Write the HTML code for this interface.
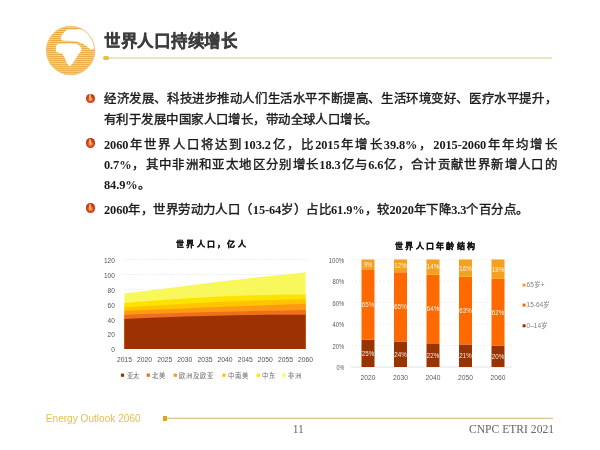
<!DOCTYPE html>
<html lang="zh-CN">
<head>
<meta charset="utf-8">
<style>
*{margin:0;padding:0;box-sizing:border-box}
html,body{width:600px;height:450px;overflow:hidden;background:#fff}
body{position:relative;font-family:"Liberation Serif",serif;color:#222}
.abs{position:absolute}
#title{left:104px;top:28px;-webkit-text-stroke:0.3px #3c3c3c;font-family:"Liberation Sans",sans-serif;font-weight:bold;font-size:16.5px;color:#3c3c3c;white-space:nowrap;letter-spacing:-0.26px}
.ln{position:absolute;left:104px;width:453px;font-size:12.4px;letter-spacing:0.44px;font-weight:normal;-webkit-text-stroke:0.4px #1a1a1a;white-space:nowrap;text-align:justify;text-align-last:justify;line-height:16px;color:#1a1a1a}
.n{font-size:12.4px;letter-spacing:-0.1px;font-weight:bold;-webkit-text-stroke:0}
.bul{position:absolute;width:9.2px;height:9.4px;border-radius:50%;background:radial-gradient(circle at 50% 58%,#ffe080 0,#f9a040 14%,#dc4c22 36%,#c43418 60%,#a42a10 100%)}
.bul::after{content:"";position:absolute;left:3.8px;top:0.6px;width:1.6px;height:4.2px;border-radius:0.8px;background:linear-gradient(#f0a060,#ffd070)}
.ct{position:absolute;font-weight:bold;white-space:nowrap;color:#111}
.ax{position:absolute;font-family:"Liberation Sans",sans-serif;font-size:8px;color:#595959;white-space:nowrap}
.lg{position:absolute;font-size:7px;color:#555;white-space:nowrap}
</style>
</head>
<body>
<div id="wrap" style="position:absolute;left:0;top:0;width:600px;height:450px;will-change:transform">
<!-- globe -->
<svg class="abs" style="left:44px;top:24px" width="56" height="56" viewBox="0 0 450 450">
<defs>
<pattern id="st" width="450" height="16" patternUnits="userSpaceOnUse">
<rect width="450" height="16" fill="#fae6bd"/>
<rect width="450" height="10" fill="#eaa83a"/>
</pattern>
<clipPath id="gc"><circle cx="214" cy="213" r="197"/></clipPath>
</defs>
<circle cx="214" cy="213" r="197" fill="url(#st)"/>
<g clip-path="url(#gc)" fill="#fff">
<path d="M136 128 L138 100 L150 80 L170 60 L185 44 L240 46 L285 42 L330 40 L400 70 L430 140 L430 205 L402 198 L375 204 L352 186 L332 170 L312 158 L292 150 L270 142 L240 136 L200 134 L160 134 Z"/>
<path d="M110 160 L99 176 L95 200 L97 226 L120 232 L145 238 L163 263 L181 309 L204 342 L222 325 L236 309 L259 272 L275 246 L292 228 L303 205 L294 182 L278 166 L252 158 L200 156 Z"/>
</g>
<circle cx="214" cy="213" r="193" fill="none" stroke="#eec27a" stroke-width="8"/>
</svg>

<div id="title" class="abs">世界人口持续增长</div>
<div class="abs" style="left:107px;top:57px;width:445px;height:1.5px;background:#ebe6c0"></div>
<div class="abs" style="left:102.8px;top:55.5px;width:6px;height:4.4px;border-radius:2.2px;background:#e6c22c"></div>

<!-- bullets -->
<div class="bul" style="left:85.6px;top:93.7px"></div>
<div class="bul" style="left:85.6px;top:138.2px"></div>
<div class="bul" style="left:85.6px;top:203.3px"></div>

<div class="ln" style="top:91px">经济发展、科技进步推动人们生活水平不断提高、生活环境变好、医疗水平提升，</div>
<div class="ln" style="top:112px;text-align-last:left">有利于发展中国家人口增长，带动全球人口增长。</div>
<div class="ln" style="top:136.5px"><span class="n">2060</span>年世界人口将达到<span class="n">103.2</span>亿，比<span class="n">2015</span>年增长<span class="n">39.8%</span>，<span class="n">2015-2060</span>年年均增长</div>
<div class="ln" style="top:156.5px"><span class="n">0.7%</span>，其中非洲和亚太地区分别增长<span class="n">18.3</span>亿与<span class="n">6.6</span>亿，合计贡献世界新增人口的</div>
<div class="ln" style="top:177px;text-align-last:left"><span class="n">84.9%</span>。</div>
<div class="ln" style="top:202px;text-align-last:left"><span class="n">2060</span>年，世界劳动力人口（<span class="n">15-64</span>岁）占比<span class="n">61.9%</span>，较<span class="n">2020</span>年下降<span class="n">3.3</span>个百分点。</div>

<!-- left chart -->
<div class="ct" style="left:176px;top:237.8px;font-size:8px;letter-spacing:2.3px;-webkit-text-stroke:0.2px #111">世界人口，亿人</div>
<svg id="c1" class="abs" style="left:0;top:0" width="600" height="450">
<line x1="123.4" y1="334.1" x2="306.6" y2="334.1" stroke="#e2e2e2" stroke-width="0.8" stroke-dasharray="1 1.2"/>
<line x1="123.4" y1="319.2" x2="306.6" y2="319.2" stroke="#e2e2e2" stroke-width="0.8" stroke-dasharray="1 1.2"/>
<line x1="123.4" y1="304.3" x2="306.6" y2="304.3" stroke="#e2e2e2" stroke-width="0.8" stroke-dasharray="1 1.2"/>
<line x1="123.4" y1="289.4" x2="306.6" y2="289.4" stroke="#e2e2e2" stroke-width="0.8" stroke-dasharray="1 1.2"/>
<line x1="123.4" y1="274.5" x2="306.6" y2="274.5" stroke="#e2e2e2" stroke-width="0.8" stroke-dasharray="1 1.2"/>
<line x1="123.4" y1="259.6" x2="306.6" y2="259.6" stroke="#e2e2e2" stroke-width="0.8" stroke-dasharray="1 1.2"/>
<path d="M124.4 293.6 L144.5 291.0 L164.7 288.4 L184.8 285.9 L204.9 283.4 L225.1 281.1 L245.2 278.8 L265.3 276.5 L285.5 274.4 L305.6 272.3 L305.6 349.0 L285.5 349.0 L265.3 349.0 L245.2 349.0 L225.1 349.0 L204.9 349.0 L184.8 349.0 L164.7 349.0 L144.5 349.0 L124.4 349.0 Z" fill="#f8f85c"/>
<path d="M124.4 303.0 L144.5 301.3 L164.7 299.7 L184.8 298.4 L204.9 297.2 L225.1 296.2 L245.2 295.5 L265.3 294.9 L285.5 294.6 L305.6 294.4 L305.6 349.0 L285.5 349.0 L265.3 349.0 L245.2 349.0 L225.1 349.0 L204.9 349.0 L184.8 349.0 L164.7 349.0 L144.5 349.0 L124.4 349.0 Z" fill="#ffe300"/>
<path d="M124.4 307.5 L144.5 306.1 L164.7 304.9 L184.8 303.7 L204.9 302.7 L225.1 301.8 L245.2 300.9 L265.3 300.2 L285.5 299.6 L305.6 299.1 L305.6 349.0 L285.5 349.0 L265.3 349.0 L245.2 349.0 L225.1 349.0 L204.9 349.0 L184.8 349.0 L164.7 349.0 L144.5 349.0 L124.4 349.0 Z" fill="#ffc400"/>
<path d="M124.4 311.0 L144.5 310.1 L164.7 309.3 L184.8 308.4 L204.9 307.6 L225.1 306.8 L245.2 306.0 L265.3 305.3 L285.5 304.5 L305.6 303.8 L305.6 349.0 L285.5 349.0 L265.3 349.0 L245.2 349.0 L225.1 349.0 L204.9 349.0 L184.8 349.0 L164.7 349.0 L144.5 349.0 L124.4 349.0 Z" fill="#fd9a14"/>
<path d="M124.4 314.7 L144.5 314.0 L164.7 313.4 L184.8 312.8 L204.9 312.2 L225.1 311.7 L245.2 311.3 L265.3 310.8 L285.5 310.5 L305.6 310.1 L305.6 349.0 L285.5 349.0 L265.3 349.0 L245.2 349.0 L225.1 349.0 L204.9 349.0 L184.8 349.0 L164.7 349.0 L144.5 349.0 L124.4 349.0 Z" fill="#ef6f1c"/>
<path d="M124.4 319.0 L144.5 318.0 L164.7 317.2 L184.8 316.5 L204.9 315.9 L225.1 315.4 L245.2 315.1 L265.3 314.8 L285.5 314.7 L305.6 314.7 L305.6 349.0 L285.5 349.0 L265.3 349.0 L245.2 349.0 L225.1 349.0 L204.9 349.0 L184.8 349.0 L164.7 349.0 L144.5 349.0 L124.4 349.0 Z" fill="#9c3203"/>
<g font-family="Liberation Sans, sans-serif" font-size="8" fill="#525252">
<text x="114.8" y="352.3" text-anchor="end" textLength="3.6" lengthAdjust="spacingAndGlyphs">0</text>
<text x="114.8" y="337.4" text-anchor="end" textLength="7.2" lengthAdjust="spacingAndGlyphs">20</text>
<text x="114.8" y="322.5" text-anchor="end" textLength="7.2" lengthAdjust="spacingAndGlyphs">40</text>
<text x="114.8" y="307.6" text-anchor="end" textLength="7.2" lengthAdjust="spacingAndGlyphs">60</text>
<text x="114.8" y="292.7" text-anchor="end" textLength="7.2" lengthAdjust="spacingAndGlyphs">80</text>
<text x="114.8" y="277.8" text-anchor="end" textLength="10.8" lengthAdjust="spacingAndGlyphs">100</text>
<text x="114.8" y="262.9" text-anchor="end" textLength="10.8" lengthAdjust="spacingAndGlyphs">120</text>
<text x="124.4" y="361.8" text-anchor="middle" textLength="15" lengthAdjust="spacingAndGlyphs">2015</text>
<text x="144.5" y="361.8" text-anchor="middle" textLength="15" lengthAdjust="spacingAndGlyphs">2020</text>
<text x="164.7" y="361.8" text-anchor="middle" textLength="15" lengthAdjust="spacingAndGlyphs">2025</text>
<text x="184.8" y="361.8" text-anchor="middle" textLength="15" lengthAdjust="spacingAndGlyphs">2030</text>
<text x="204.9" y="361.8" text-anchor="middle" textLength="15" lengthAdjust="spacingAndGlyphs">2035</text>
<text x="225.1" y="361.8" text-anchor="middle" textLength="15" lengthAdjust="spacingAndGlyphs">2040</text>
<text x="245.2" y="361.8" text-anchor="middle" textLength="15" lengthAdjust="spacingAndGlyphs">2045</text>
<text x="265.3" y="361.8" text-anchor="middle" textLength="15" lengthAdjust="spacingAndGlyphs">2050</text>
<text x="285.5" y="361.8" text-anchor="middle" textLength="15" lengthAdjust="spacingAndGlyphs">2055</text>
<text x="305.6" y="361.8" text-anchor="middle" textLength="15" lengthAdjust="spacingAndGlyphs">2060</text>
</g>
<g font-size="6.3" fill="#6a6a6a" letter-spacing="0.9"><rect x="120.9" y="373.6" width="3.2" height="3.2" fill="#993300"/>
<text x="126.5" y="377.8">亚太</text>
<rect x="146.7" y="373.6" width="3.2" height="3.2" fill="#ef6f12"/>
<text x="152.3" y="377.8">北美</text>
<rect x="173.7" y="373.6" width="3.2" height="3.2" fill="#fb9714"/>
<text x="179.3" y="377.8">欧洲及欧亚</text>
<rect x="222.4" y="373.6" width="3.2" height="3.2" fill="#ffc000"/>
<text x="228.0" y="377.8">中南美</text>
<rect x="256.7" y="373.6" width="3.2" height="3.2" fill="#ffe100"/>
<text x="262.3" y="377.8">中东</text>
<rect x="282.4" y="373.6" width="3.2" height="3.2" fill="#fafa55"/>
<text x="288.0" y="377.8">非洲</text></g>
</svg>

<!-- right chart -->
<div class="ct" style="left:395px;top:240px;font-size:8px;letter-spacing:2.3px;-webkit-text-stroke:0.2px #111">世界人口年龄结构</div>
<svg id="c2" class="abs" style="left:0;top:0" width="600" height="450">
<line x1="351" y1="367.0" x2="512" y2="367.0" stroke="#d9d9d9" stroke-width="0.75"/>
<line x1="351" y1="345.5" x2="512" y2="345.5" stroke="#ececec" stroke-width="0.8" stroke-dasharray="2 2"/>
<line x1="351" y1="324.0" x2="512" y2="324.0" stroke="#ececec" stroke-width="0.8" stroke-dasharray="2 2"/>
<line x1="351" y1="302.5" x2="512" y2="302.5" stroke="#ececec" stroke-width="0.8" stroke-dasharray="2 2"/>
<line x1="351" y1="281.0" x2="512" y2="281.0" stroke="#ececec" stroke-width="0.8" stroke-dasharray="2 2"/>
<line x1="351" y1="259.5" x2="512" y2="259.5" stroke="#ececec" stroke-width="0.8" stroke-dasharray="2 2"/>
<rect x="361.5" y="339.85" width="13" height="27.15" fill="#993300"/>
<rect x="361.5" y="269.27" width="13" height="70.58" fill="#ff6a00"/>
<rect x="361.5" y="259.50" width="13" height="9.77" fill="#f5a01e"/>
<rect x="394.0" y="341.46" width="13" height="25.54" fill="#993300"/>
<rect x="394.0" y="272.27" width="13" height="69.18" fill="#ff6a00"/>
<rect x="394.0" y="259.50" width="13" height="12.77" fill="#f5a01e"/>
<rect x="426.5" y="343.35" width="13" height="23.65" fill="#993300"/>
<rect x="426.5" y="274.55" width="13" height="68.80" fill="#ff6a00"/>
<rect x="426.5" y="259.50" width="13" height="15.05" fill="#f5a01e"/>
<rect x="459.0" y="344.43" width="13" height="22.57" fill="#993300"/>
<rect x="459.0" y="276.70" width="13" height="67.73" fill="#ff6a00"/>
<rect x="459.0" y="259.50" width="13" height="17.20" fill="#f5a01e"/>
<rect x="491.5" y="345.50" width="13" height="21.50" fill="#993300"/>
<rect x="491.5" y="278.85" width="13" height="66.65" fill="#ff6a00"/>
<rect x="491.5" y="259.50" width="13" height="19.35" fill="#f5a01e"/>
<g font-family="Liberation Sans, sans-serif" font-size="7" fill="#fff" fill-opacity="0.9"><text x="368.0" y="355.8" text-anchor="middle" textLength="12.3" lengthAdjust="spacingAndGlyphs">25%</text>
<text x="368.0" y="307.0" text-anchor="middle" textLength="12.3" lengthAdjust="spacingAndGlyphs">65%</text>
<text x="368.0" y="266.8" text-anchor="middle" textLength="8.2" lengthAdjust="spacingAndGlyphs">9%</text>
<text x="400.5" y="356.6" text-anchor="middle" textLength="12.3" lengthAdjust="spacingAndGlyphs">24%</text>
<text x="400.5" y="309.3" text-anchor="middle" textLength="12.3" lengthAdjust="spacingAndGlyphs">65%</text>
<text x="400.5" y="268.3" text-anchor="middle" textLength="12.3" lengthAdjust="spacingAndGlyphs">12%</text>
<text x="433.0" y="357.6" text-anchor="middle" textLength="12.3" lengthAdjust="spacingAndGlyphs">22%</text>
<text x="433.0" y="311.4" text-anchor="middle" textLength="12.3" lengthAdjust="spacingAndGlyphs">64%</text>
<text x="433.0" y="269.4" text-anchor="middle" textLength="12.3" lengthAdjust="spacingAndGlyphs">14%</text>
<text x="465.5" y="358.1" text-anchor="middle" textLength="12.3" lengthAdjust="spacingAndGlyphs">21%</text>
<text x="465.5" y="313.0" text-anchor="middle" textLength="12.3" lengthAdjust="spacingAndGlyphs">63%</text>
<text x="465.5" y="270.5" text-anchor="middle" textLength="12.3" lengthAdjust="spacingAndGlyphs">16%</text>
<text x="498.0" y="358.6" text-anchor="middle" textLength="12.3" lengthAdjust="spacingAndGlyphs">20%</text>
<text x="498.0" y="314.6" text-anchor="middle" textLength="12.3" lengthAdjust="spacingAndGlyphs">62%</text>
<text x="498.0" y="271.6" text-anchor="middle" textLength="12.3" lengthAdjust="spacingAndGlyphs">18%</text></g>
<g font-family="Liberation Sans, sans-serif" font-size="7.6" fill="#595959"><text x="344.3" y="370.1" text-anchor="end" textLength="7.8" lengthAdjust="spacingAndGlyphs">0%</text>
<text x="344.3" y="348.6" text-anchor="end" textLength="11.7" lengthAdjust="spacingAndGlyphs">20%</text>
<text x="344.3" y="327.1" text-anchor="end" textLength="11.7" lengthAdjust="spacingAndGlyphs">40%</text>
<text x="344.3" y="305.6" text-anchor="end" textLength="11.7" lengthAdjust="spacingAndGlyphs">60%</text>
<text x="344.3" y="284.1" text-anchor="end" textLength="11.7" lengthAdjust="spacingAndGlyphs">80%</text>
<text x="344.3" y="262.6" text-anchor="end" textLength="15.6" lengthAdjust="spacingAndGlyphs">100%</text>
<text x="368.0" y="379.5" text-anchor="middle" textLength="14.8" lengthAdjust="spacingAndGlyphs">2020</text>
<text x="400.5" y="379.5" text-anchor="middle" textLength="14.8" lengthAdjust="spacingAndGlyphs">2030</text>
<text x="433.0" y="379.5" text-anchor="middle" textLength="14.8" lengthAdjust="spacingAndGlyphs">2040</text>
<text x="465.5" y="379.5" text-anchor="middle" textLength="14.8" lengthAdjust="spacingAndGlyphs">2050</text>
<text x="498.0" y="379.5" text-anchor="middle" textLength="14.8" lengthAdjust="spacingAndGlyphs">2060</text></g>
<g font-family="Liberation Sans, sans-serif" font-size="6.5" fill="#808080"><rect x="522.6" y="283.6" width="3" height="3" fill="#f5a01e"/>
<text x="526.6" y="287.3">65岁+</text>
<rect x="522.6" y="303.6" width="3" height="3" fill="#ff6a00"/>
<text x="526.6" y="307.3">15-64岁</text>
<rect x="522.6" y="324.3" width="3" height="3" fill="#993300"/>
<text x="526.6" y="328.0">0–14岁</text></g>
</svg>

<!-- footer -->
<div class="abs" style="left:45.8px;top:413px;font-family:'Liberation Sans',sans-serif;font-size:10.1px;color:#e4bf50;white-space:nowrap">Energy Outlook 2060</div>
<div class="abs" style="left:166px;top:417.5px;width:387px;height:1px;background:#d9c48e"></div>
<div class="abs" style="left:166px;top:416.5px;width:387px;height:1px;background:#f8f0d0"></div>
<div class="abs" style="left:162.8px;top:415.8px;width:4.5px;height:4.8px;background:#d9a61e"></div>
<div class="abs" style="left:292.7px;top:422.5px;font-size:11.6px;color:#666">11</div>
<div class="abs" style="left:469px;top:422.5px;font-size:11.6px;color:#666;white-space:nowrap">CNPC ETRI 2021</div>
</div>
</body>
</html>
